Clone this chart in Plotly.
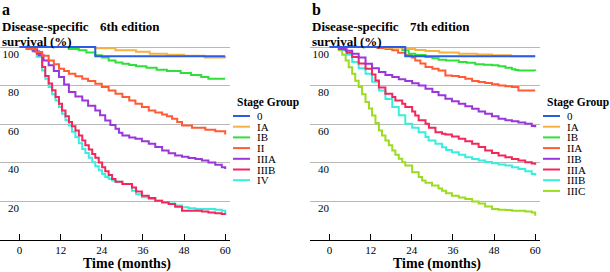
import plotly.graph_objects as go

# ---------------- data (months, survival %) ----------------
months_ticks = [0, 12, 24, 36, 48, 60]
y_ticks = [20, 40, 60, 80, 100]

# 6th edition
e6_labels = ["0", "IA", "IB", "II", "IIIA", "IIIB", "IV"]
e6_0_t = [0, 22.1, 60]
e6_0_s = [100, 95.2, 95.2]
e6_IA_t = [0, 22, 28, 34, 38, 43, 48, 54, 60]
e6_IA_s = [100, 99.4, 98.3, 97.5, 96.5, 96, 95.5, 94.5, 94.3]
e6_IB_t = [0, 14.4, 17.3, 19.5, 22.1, 24, 26, 28, 30, 32, 34, 37, 40, 43, 47, 50, 53, 55.1, 60]
e6_IB_s = [100, 99, 98.3, 97.2, 95.7, 94.5, 93, 92, 91.3, 90.6, 90, 89.2, 88.2, 87.5, 86.5, 85.5, 84.4, 83.5, 83.5]
e6_II_t = [0, 2, 4.7, 6.6, 8.5, 10, 11.5, 13, 14.4, 16.3, 18.3, 20, 22.1, 24, 26, 28, 30, 32, 33.8, 35.7,
           37.7, 39.6, 41.6, 43, 44.5, 46, 47.4, 50.3, 54.2, 57.1, 60]
e6_II_s = [100, 99, 97.4, 95.5, 93, 91, 88.7, 87.5, 86.1, 84.8, 83.5, 82.3, 80.9, 79.2, 77.4, 75.7, 74, 72.2,
           70.5, 68.8, 67, 66, 65, 64, 62.7, 61, 59.2, 58, 57, 56.3, 54.5]
e6_IIIA_t = [0, 2.7, 4, 5.6, 7, 8.5, 10, 11.5, 13, 14.4, 16.3, 18.3, 20, 22.1, 23.5, 25, 26.5, 28, 29, 30, 32,
             33.8, 35.7, 37.7, 39.6, 41.6, 43.5, 45.4, 47.4, 49.3, 51.3, 53.2, 55.1, 57.1, 59, 60]
e6_IIIA_s = [100, 99, 97.8, 95.7, 93, 90.5, 87.5, 84.4, 80.5, 76.6, 74.3, 72.2, 69.5, 67, 64.5, 61.8, 59.5,
             57.5, 55.5, 54, 53, 52.3, 51, 49.7, 48, 46.2, 44.8, 43.6, 43, 42.4, 41.8, 41, 40, 38.9, 37.5, 36.6]
e6_IIIB_t = [0, 2.5, 3.7, 5.1, 6.6, 7.5, 8.5, 9.5, 10.5, 11.5, 12.4, 13.4, 14.4, 15.3, 16.3, 17.3, 18.3, 19.2,
             20.2, 21.2, 22.1, 23.1, 24.1, 25, 26, 27, 28, 30, 32.8, 34, 35.7, 37.7, 39.6, 41.6, 43.5, 45.4,
             47.4, 49.3, 51.3, 53.2, 55.1, 57.1, 59, 60]
e6_IIIB_s = [100, 99.5, 98.8, 96.5, 89.6, 85, 81, 77.5, 74, 70.5, 67, 64, 61, 58.8, 56.6, 54, 51.4, 49, 46.7,
             44.4, 42.5, 40, 37.5, 35.5, 33.5, 31.4, 30, 28.8, 27, 25, 22.7, 21.5, 20.1, 19.2, 18.4, 17, 14.9,
             14.9, 14.9, 14.5, 14, 13.7, 13.2, 12.8]
e6_IV_t = [0, 2.5, 3.7, 5, 6.6, 7.5, 8.5, 9.5, 10.5, 11.5, 12.4, 13.4, 14.4, 15.3, 16.3, 17.3, 18.3, 19.2, 20.2,
           21.2, 22.1, 23.1, 24.1, 25, 26, 27, 28, 30, 32.8, 34, 35.7, 37.7, 39.6, 41.6, 43.5, 45.4, 47.4, 49.3,
           51.3, 53.2, 55.1, 57.1, 59, 60]
e6_IV_s = [100, 99.2, 98, 95, 87.8, 83.5, 79.2, 75.5, 72.2, 68.8, 65.3, 62, 59.2, 56, 53.1, 50, 47, 45, 42.5,
           40.1, 38, 36, 34, 32.5, 31.5, 30.6, 30, 28.8, 25.3, 23.5, 21.9, 21, 20.1, 19.5, 18.7, 17.7, 16.7,
           16.2, 15.8, 15.8, 15.8, 15.4, 14.9, 13.5]

# 7th edition
e7_labels = ["0", "IA", "IB", "IIA", "IIB", "IIIA", "IIIB", "IIIC"]
e7_0_t = [0, 22.1, 60]
e7_0_s = [100, 95.2, 95.2]
e7_IA_t = [0, 16.3, 22.1, 25, 28, 32, 37.7, 43, 47.4, 53, 60]
e7_IA_s = [100, 99.6, 99, 98.5, 97.9, 97.2, 96.5, 96.1, 95.7, 95.2, 95.2]
e7_IB_t = [0, 21.2, 23.1, 25, 28, 30, 31.8, 34, 37.7, 40, 42.5, 45, 47.4, 49.3, 51.3, 53.2, 54.2, 55.1, 60]
e7_IB_s = [100, 98.5, 96.5, 95.8, 94.8, 94.2, 93.4, 93, 92.2, 91.8, 91, 90.8, 90.5, 90, 89.2, 88.5, 88, 87.8, 87.5]
e7_IIA_t = [0, 14, 16.3, 18.3, 20, 22.1, 24, 25, 26.5, 28, 30, 31.8, 33.8, 35.7, 37.7, 39.6, 41.6, 43.5, 45.4,
            47.4, 49.3, 51.3, 53.2, 55.1, 60]
e7_IIA_s = [100, 99.5, 99, 98.3, 97, 95.7, 94.5, 93, 91.5, 89.6, 88.7, 87.8, 85.2, 85, 84.4, 83.5, 82.3, 81.8,
            81.3, 80.7, 80, 79.6, 79.2, 77.4, 77.4]
e7_IIB_t = [0, 2.7, 4.7, 6.6, 8.5, 10.5, 12.4, 14.4, 16.3, 18.3, 20.2, 22.1, 24.1, 26, 28, 30, 31.8, 33.8, 35.7,
            37.7, 39.6, 41.6, 43.5, 45.4, 47.4, 49.3, 51.3, 53.2, 55.1, 57.1, 59, 60]
e7_IIB_s = [100, 99, 98, 96.5, 94.5, 91.3, 89, 87, 85.5, 84.4, 83.3, 82.3, 81.2, 80, 78.3, 76.6, 75, 73.1, 71.8,
            70.5, 69.2, 67.9, 66.5, 65.3, 64, 62.7, 62, 61.5, 60.8, 60.1, 59, 58.3]
e7_IIIA_t = [0, 3.7, 5, 6.6, 8.5, 10.5, 12.4, 13.4, 14.4, 16.3, 18.3, 19.2, 21.2, 22.1, 24.1, 25, 26, 28, 29,
             30.9, 32.8, 33.8, 35.7, 37.7, 39.6, 41.6, 43.5, 45.4, 47.4, 49.3, 51.3, 53.2, 55.1, 57.1, 59, 60]
e7_IIIA_s = [100, 98.8, 97, 94.8, 91.5, 88.7, 85.7, 82.6, 79, 75.7, 74, 72.2, 70.5, 68.8, 66.5, 64.4, 62, 60.1,
             58, 55.7, 55, 54.5, 53.5, 52.3, 51, 49.7, 48, 46.2, 45, 43.6, 42.7, 41.8, 41, 40.1, 39.5, 38.9]
e7_IIIB_t = [0, 3.7, 5, 6.6, 8.5, 10.5, 12.4, 14.4, 16.3, 18.3, 20.2, 22.1, 24.1, 26, 28, 28.9, 30.9, 32.8, 34,
             35.7, 37.7, 39.6, 41.6, 43.5, 45.4, 47.4, 49.3, 51.3, 53.2, 55.1, 57.1, 59, 60]
e7_IIIB_s = [100, 98.5, 96, 92.2, 89, 86.1, 82, 77.4, 73, 68.8, 64.5, 60.1, 58, 55.7, 53.2, 51.4, 49.7, 47.9,
             46.5, 45.3, 44, 42.7, 41.8, 41, 40.3, 39.6, 39, 38.4, 37.5, 36.6, 35.5, 34, 33.2]
e7_IIIC_t = [0, 2.7, 3.7, 4.7, 5.6, 6.6, 7.5, 8.5, 9.5, 10.5, 11.5, 12.4, 13.4, 14.4, 15.3, 16.3, 17.3, 18.3,
             19.2, 20.2, 21.2, 22.1, 24.1, 26, 27, 28, 29.9, 31.8, 32.8, 34, 35.7, 37.7, 39.6, 41.6, 43.5, 45.4,
             47.4, 49.3, 51.3, 53.2, 55.1, 57.1, 59, 60]
e7_IIIC_s = [100, 98.3, 96, 93, 89.5, 86.1, 82.5, 79.2, 75.5, 71.4, 68, 64.4, 60.5, 56.6, 54, 51.4, 49, 46.2,
             44, 42, 40.1, 38.5, 34.9, 32.5, 30.6, 29.5, 28, 26.5, 25.3, 24, 22.7, 21.8, 21, 19.8, 18.7, 17.2,
             15.8, 15.5, 15.3, 15, 14.9, 14.5, 14, 12.3]

# ---------------- styling ----------------
C_BLUE, C_IA, C_IB, C_II = "#2a5ce8", "#f5b342", "#2fe03b", "#ff5c36"
C_PURP, C_RED, C_CYAN, C_LIME = "#9a37da", "#f4265a", "#38eee0", "#9cdc1e"
e6_colors = [C_BLUE, C_IA, C_IB, C_II, C_PURP, C_RED, C_CYAN]
e7_colors = [C_BLUE, C_IA, C_IB, C_II, C_PURP, C_RED, C_CYAN, C_LIME]
e6_series = [(e6_0_t, e6_0_s), (e6_IA_t, e6_IA_s), (e6_IB_t, e6_IB_s), (e6_II_t, e6_II_s),
             (e6_IIIA_t, e6_IIIA_s), (e6_IIIB_t, e6_IIIB_s), (e6_IV_t, e6_IV_s)]
e7_series = [(e7_0_t, e7_0_s), (e7_IA_t, e7_IA_s), (e7_IB_t, e7_IB_s), (e7_IIA_t, e7_IIA_s),
             (e7_IIB_t, e7_IIB_s), (e7_IIIA_t, e7_IIIA_s), (e7_IIIB_t, e7_IIIB_s), (e7_IIIC_t, e7_IIIC_s)]

W, H = 610, 272
SERIF = "Liberation Serif, Times New Roman, serif"


def px(x):
    return x / W


def py(y):
    return 1 - y / H


fig = go.Figure()

panels = [
    dict(xa="x", ya="y", series=e6_series, colors=e6_colors, labels=e6_labels, left=0),
    dict(xa="x2", ya="y2", series=e7_series, colors=e7_colors, labels=e7_labels, left=310),
]

for p in panels:
    for (t, s), c, lab in reversed(list(zip(p["series"], p["colors"], p["labels"]))):
        fig.add_trace(go.Scatter(x=t, y=s, mode="lines", line=dict(color=c, width=2, shape="hv"),
                                 name=lab, showlegend=False, xaxis=p["xa"], yaxis=p["ya"],
                                 hoverinfo="skip"))

ydom = [py(239.5), py(45.1)]
axis_common = dict(range=[-5.7, 61.4], tickvals=months_ticks, ticks="inside", ticklen=6,
                   tickcolor="black", showline=True, linecolor="black", linewidth=1,
                   showgrid=False, zeroline=False, automargin=False,
                   tickfont=dict(family=SERIF, size=11, color="black"))
yaxis_common = dict(range=[0, 101], tickvals=y_ticks, showgrid=True, gridcolor="#b8b8b8",
                    gridwidth=1, zeroline=False, showline=False, ticks="", automargin=False,
                    ticklabelposition="outside", ticklabelstandoff=-20, ticklabelshift=7,
                    tickfont=dict(family=SERIF, size=11, color="black"), domain=ydom)

fig.update_layout(
    width=W, height=H, margin=dict(l=0, r=0, t=0, b=0, pad=0), autosize=False,
    paper_bgcolor="white", plot_bgcolor="white", showlegend=False,
    xaxis=dict(domain=[px(0), px(230)], anchor="y", **axis_common),
    xaxis2=dict(domain=[px(310), px(540)], anchor="y2", **axis_common),
    yaxis=dict(anchor="x", **yaxis_common),
    yaxis2=dict(anchor="x2", **yaxis_common),
)

annotations = []
shapes = []
for p, letter, ed in [(panels[0], "a", "6th edition"), (panels[1], "b", "7th edition")]:
    L = p["left"]
    annotations.append(dict(x=px(L + 0), y=py(10), xref="paper", yref="paper", text=f"<b>{letter}</b>",
                            showarrow=False, xanchor="left", yanchor="middle",
                            font=dict(family=SERIF, size=16, color="black")))
    annotations.append(dict(x=px(L + 0), y=py(26), xref="paper", yref="paper",
                            text="<b>Disease-specific</b>", showarrow=False, xanchor="left",
                            yanchor="middle", font=dict(family=SERIF, size=13, color="black")))
    annotations.append(dict(x=px(L + 98), y=py(26), xref="paper", yref="paper",
                            text=f"<b>{ed}</b>", showarrow=False, xanchor="left",
                            yanchor="middle", font=dict(family=SERIF, size=13, color="black")))
    annotations.append(dict(x=px(L + 0), y=py(41), xref="paper", yref="paper",
                            text="<b>survival (%)</b>", showarrow=False, xanchor="left",
                            yanchor="middle", font=dict(family=SERIF, size=13, color="black")))
    annotations.append(dict(x=px(L + 127), y=py(264), xref="paper", yref="paper",
                            text="<b>Time (months)</b>", showarrow=False, xanchor="center",
                            yanchor="middle", font=dict(family=SERIF, size=14, color="black")))
    # legend
    lx = L + 234
    annotations.append(dict(x=px(lx + 1), y=py(102), xref="paper", yref="paper", text="<b>Stage Group</b>",
                            showarrow=False, xanchor="left", yanchor="middle",
                            font=dict(family=SERIF, size=11.5, color="black")))
    for i, (lab, c) in enumerate(zip(p["labels"], p["colors"])):
        yy = 116 + i * 10.7
        shapes.append(dict(type="line", xref="paper", yref="paper", x0=px(lx - 1), x1=px(lx + 16),
                           y0=py(yy), y1=py(yy), line=dict(color=c, width=2)))
        annotations.append(dict(x=px(lx + 21), y=py(yy), xref="paper", yref="paper", text=lab,
                                showarrow=False, xanchor="left", yanchor="middle",
                                font=dict(family=SERIF, size=11, color="black")))

fig.update_layout(annotations=annotations, shapes=shapes)
fig.write_html("out.html", config={"displayModeBar": False},
               post_script="document.body.style.margin='0';document.body.style.overflow='hidden';")
